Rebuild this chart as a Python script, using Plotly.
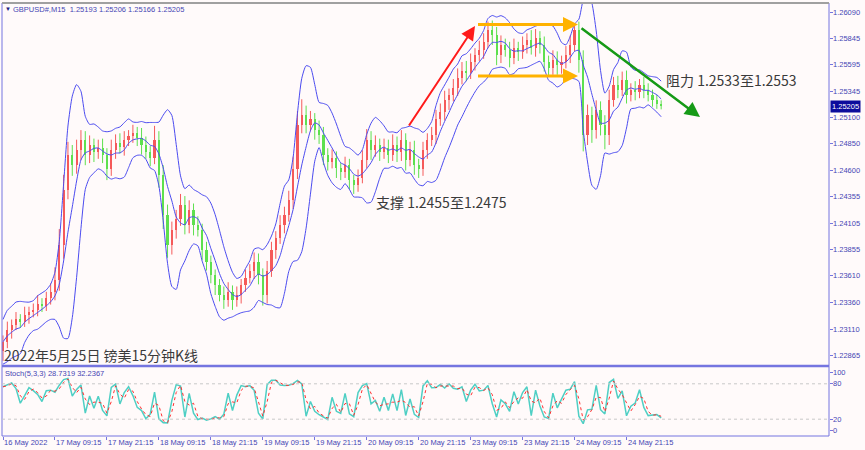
import numpy as np
import pandas as pd
import plotly.graph_objects as go

# ---------------- data (hourly approximation of GBPUSD M15 chart) ----------------
close = [
    1.2299, 1.2310, 1.2315, 1.2320, 1.2318, 1.2324, 1.2327, 1.2329, 1.2335, 1.2333,
    1.2340, 1.2346, 1.2357, 1.2390, 1.2442, 1.2475, 1.2465, 1.2479, 1.2489, 1.2475,
    1.2484, 1.2477, 1.2481, 1.2475, 1.2461, 1.2479, 1.2486, 1.2482, 1.2489, 1.2492,
    1.2495, 1.2491, 1.2484, 1.2477, 1.2472, 1.2489, 1.2456, 1.2418, 1.2390, 1.2404,
    1.2414, 1.2428, 1.2409, 1.2423, 1.2409, 1.2404, 1.2385, 1.2374, 1.2362, 1.2352,
    1.2343, 1.2338, 1.2346, 1.2338, 1.2343, 1.2352, 1.2359, 1.2366, 1.2374, 1.2362,
    1.2343, 1.2366, 1.2385, 1.2397, 1.2409, 1.2418, 1.2432, 1.2461, 1.2503, 1.2512,
    1.2503, 1.2508, 1.2498, 1.2493, 1.2475, 1.2468, 1.2472, 1.2462, 1.2459, 1.2465,
    1.2451, 1.2446, 1.2453, 1.2470, 1.2489, 1.2479, 1.2484, 1.2477, 1.2481, 1.2475,
    1.2484, 1.2477, 1.2489, 1.2470, 1.2479, 1.2465, 1.2461, 1.2479, 1.2489, 1.2493,
    1.2508, 1.2515, 1.2526, 1.2531, 1.2538, 1.2547, 1.2554, 1.2552, 1.2562, 1.2569,
    1.2573, 1.2581, 1.2592, 1.2587, 1.2569, 1.2578, 1.2573, 1.2566, 1.2575, 1.2571,
    1.2578, 1.2583, 1.2575, 1.2585, 1.2578, 1.2562, 1.2556, 1.2564, 1.2559, 1.2562,
    1.2569, 1.2578, 1.2592, 1.2564, 1.2493, 1.2512, 1.2498, 1.2517, 1.2503, 1.2493,
    1.2526, 1.2540, 1.2536, 1.2545, 1.2531, 1.2536, 1.2534, 1.2540, 1.2536, 1.2531,
    1.2526, 1.2523, 1.25205,
]
first_open = 1.2290

# upper / lower wick lengths in pips (0.0001)
wick_up = [
    6, 8, 5, 7, 5, 8, 5, 6, 8, 5,
    6, 8, 12, 15, 14, 12, 9, 10, 9, 8,
    9, 6, 8, 9, 6, 10, 8, 9, 8, 6,
    8, 6, 9, 8, 6, 13, 8, 9, 10, 8,
    9, 10, 8, 9, 6, 8, 6, 8, 6, 5,
    6, 8, 9, 6, 8, 6, 8, 6, 9, 8,
    6, 9, 8, 6, 9, 8, 9, 12, 13, 15,
    9, 8, 6, 9, 8, 6, 8, 6, 5, 8,
    6, 5, 8, 9, 10, 8, 9, 6, 9, 8,
    10, 8, 9, 6, 8, 9, 6, 8, 6, 8,
    9, 8, 9, 6, 8, 9, 8, 9, 8, 6,
    9, 8, 8, 9, 8, 9, 6, 8, 9, 6,
    8, 6, 9, 8, 6, 8, 6, 9, 8, 6,
    8, 9, 6, 8, 9, 10, 8, 9, 8, 9,
    10, 8, 9, 8, 9, 6, 8, 6, 8, 6,
    5, 5, 3,
]
wick_dn = [
    9, 6, 8, 5, 6, 5, 8, 5, 6, 6,
    5, 6, 8, 10, 13, 9, 10, 8, 9, 10,
    8, 9, 6, 8, 10, 6, 8, 6, 8, 6,
    6, 8, 9, 6, 8, 6, 12, 13, 12, 9,
    8, 6, 9, 8, 10, 6, 9, 8, 8, 9,
    6, 8, 6, 9, 6, 8, 6, 5, 8, 9,
    10, 8, 6, 8, 6, 8, 6, 8, 9, 8,
    8, 6, 9, 8, 10, 8, 6, 9, 8, 6,
    9, 8, 6, 5, 8, 9, 6, 8, 6, 8,
    6, 9, 8, 10, 6, 9, 8, 6, 8, 6,
    8, 6, 8, 9, 6, 8, 6, 8, 6, 8,
    6, 8, 6, 9, 10, 8, 6, 9, 6, 8,
    6, 8, 6, 8, 8, 9, 8, 6, 9, 8,
    6, 8, 6, 12, 15, 9, 12, 8, 10, 13,
    9, 6, 8, 6, 8, 6, 8, 6, 8, 6,
    6, 5, 3,
]

tick_bar_index = [0, 12, 24, 36, 48, 60, 72, 84, 96, 108, 120, 132, 144]
tick_labels = ["16 May 2022", "17 May 09:15", "17 May 21:15", "18 May 09:15",
               "18 May 21:15", "19 May 09:15", "19 May 21:15", "20 May 09:15",
               "20 May 21:15", "23 May 09:15", "23 May 21:15", "24 May 09:15",
               "24 May 21:15"]
price_ticks = [1.26090, 1.25845, 1.25595, 1.25345, 1.25100, 1.24850, 1.24600,
               1.24355, 1.24105, 1.23855, 1.23610, 1.23360, 1.23110, 1.22865]
stoch_ticks = [0, 20, 80, 100]
last_price = 1.25205

header_text = "GBPUSD#,M15  1.25193 1.25206 1.25166 1.25205"
stoch_text = "Stoch(5,3,3) 28.7319 32.2367"
title_text = "2022年5月25日 镑美15分钟K线"
support_text = "支撑 1.2455至1.2475"
resist_text = "阻力 1.2533至1.2553"

assert len(close) == len(wick_up) == len(wick_dn)

# ---------------- derived series ----------------
n = len(close)
idx = np.arange(n)
c = pd.Series(close)
o = pd.Series([first_open] + close[:-1])
hi = pd.concat([o, c], axis=1).max(axis=1) + pd.Series(wick_up) * 0.0001
lo = pd.concat([o, c], axis=1).min(axis=1) - pd.Series(wick_dn) * 0.0001

# Bollinger bands: 5 hourly bars (= 20 x M15); dispersion pooled over O/H/L/C
mid = c.rolling(5, min_periods=1).mean()
sd = []
for i in range(n):
    j0 = max(0, i - 4)
    vals = np.concatenate([o[j0:i + 1], hi[j0:i + 1], lo[j0:i + 1], c[j0:i + 1]])
    sd.append(np.sqrt(np.mean((vals - mid[i]) ** 2)))
sd = pd.Series(sd)
upper = mid + 2 * sd
lower = mid - 2 * sd

# Stochastic on hourly bars (periods scaled from M15)
ll = lo.rolling(2, min_periods=1).min()
hh = hi.rolling(2, min_periods=1).max()
k = 100 * (c - ll) / (hh - ll)
d = k.rolling(2, min_periods=1).mean()

# ---------------- geometry helpers ----------------
W, H = 865, 450
PL, PR, PT, PB = 2, 829, 3, 436


def pxx(xp):
    return (xp - PL) / (PR - PL)


def pyy(yp):
    return (PB - yp) / (PB - PT)


def bar_at(xp):
    return (xp - 3) / 4.33


def price_at(yp):
    return 1.26203 - 0.0000940 * yp


RED = "#f55a5a"
GREEN = "#5ee04f"
BAND = "#4b4bf0"
AXC = "#4646b4"
FRAME = "#7575e0"
SMALL = dict(family="Liberation Sans, Arial, sans-serif", size=7.5, color=AXC)

fig = go.Figure()

up = c >= o
for mask, col in ((up, RED), (~up, GREEN)):
    ii = idx[mask.values]
    base = np.minimum(o[mask], c[mask]).values
    hgt = np.maximum(np.abs(c[mask] - o[mask]).values, 0.00004)
    fig.add_trace(go.Bar(x=ii, y=hgt, base=base, width=0.5, marker=dict(color=col, line=dict(width=0)),
                         xaxis="x", yaxis="y", showlegend=False, hoverinfo="skip"))
    wx, wy = [], []
    for j in ii:
        wx += [j, j, None]
        wy += [lo[j], hi[j], None]
    fig.add_trace(go.Scatter(x=wx, y=wy, mode="lines", line=dict(color=col, width=1),
                             xaxis="x", yaxis="y", showlegend=False, hoverinfo="skip"))

for s in (upper, mid, lower):
    fig.add_trace(go.Scatter(x=idx, y=s, mode="lines", line=dict(color=BAND, width=1, shape="spline", smoothing=0.6),
                             xaxis="x", yaxis="y", showlegend=False, hoverinfo="skip"))

fig.add_trace(go.Scatter(x=idx, y=k, mode="lines", line=dict(color="#4fcfc4", width=1.5),
                         xaxis="x2", yaxis="y2", showlegend=False))
fig.add_trace(go.Scatter(x=idx, y=d, mode="lines", line=dict(color="#ff3030", width=1, dash="dot"),
                         xaxis="x2", yaxis="y2", showlegend=False))

xr = [bar_at(PL), bar_at(PR)]
main_bottom = pyy(365)
stoch_top = pyy(367)

fig.update_layout(
    width=W, height=H,
    margin=dict(l=PL, r=W - PR, t=PT, b=H - PB, autoexpand=False),
    paper_bgcolor="#fffafa", plot_bgcolor="#fffafa",
    bargap=0, barmode="overlay",
    font=SMALL,
    xaxis=dict(domain=[0, 1], range=xr, showticklabels=False, showgrid=False, zeroline=False,
               ticks="", anchor="y", automargin=False),
    yaxis=dict(domain=[main_bottom, 1], range=[price_at(365), price_at(3)], side="right",
               tickvals=price_ticks, showticklabels=False, ticks="outside", ticklen=3, tickcolor=FRAME,
               showgrid=False, zeroline=False, anchor="x", automargin=False),
    xaxis2=dict(domain=[0, 1], range=xr, showgrid=False, zeroline=False, anchor="y2",
                tickvals=tick_bar_index, showticklabels=False, ticks="outside", ticklen=3,
                tickcolor=FRAME, automargin=False),
    yaxis2=dict(domain=[0, stoch_top], range=[-8.5, 108.5], side="right",
                tickvals=stoch_ticks, showticklabels=False, ticks="outside", ticklen=3, tickcolor=FRAME,
                showgrid=False, zeroline=False, anchor="x2", automargin=False),
)

shapes = []
shapes.append(dict(type="rect", xref="paper", yref="paper", x0=0, x1=1, y0=0, y1=1,
                   line=dict(color=FRAME, width=1)))
shapes.append(dict(type="line", xref="paper", yref="paper", x0=0, x1=1, y0=pyy(366), y1=pyy(366),
                   line=dict(color=FRAME, width=2.5)))
shapes.append(dict(type="line", xref="paper", yref="paper", x0=0, x1=1, y0=1, y1=1,
                   line=dict(color="#a0a0a0", width=2)))
for lvl in (20, 80):
    shapes.append(dict(type="line", xref="paper", yref="y2", x0=0, x1=1, y0=lvl, y1=lvl,
                       line=dict(color="#c8c8c8", width=1, dash="dot")))
for yp in (24.5, 76):
    shapes.append(dict(type="line", xref="x", yref="y", x0=bar_at(478), x1=bar_at(572),
                       y0=price_at(yp), y1=price_at(yp), line=dict(color="#ffb200", width=3)))
fig.update_layout(shapes=shapes)

ann = []
ann.append(dict(x=bar_at(475), y=price_at(26), ax=bar_at(408), ay=price_at(127), xref="x", yref="y",
                axref="x", ayref="y", showarrow=True, arrowhead=2, arrowsize=1.4, arrowwidth=2,
                arrowcolor="#ff1a1a", text=""))
for yp in (24.5, 76):
    ann.append(dict(x=bar_at(578), y=price_at(yp), ax=bar_at(560), ay=price_at(yp), xref="x", yref="y",
                    axref="x", ayref="y", showarrow=True, arrowhead=2, arrowsize=1.0, arrowwidth=3,
                    arrowcolor="#ffb200", text=""))
ann.append(dict(x=bar_at(700), y=price_at(117), ax=bar_at(580), ay=price_at(27), xref="x", yref="y",
                axref="x", ayref="y", showarrow=True, arrowhead=2, arrowsize=1.2, arrowwidth=2.5,
                arrowcolor="#169a16", text=""))

big = dict(family="Noto Sans CJK SC, sans-serif", size=14, color="#3a3a3a")
ann.append(dict(x=pxx(2), y=pyy(355), xref="paper", yref="paper", xanchor="left", yanchor="middle",
                text=title_text, showarrow=False,
                font=dict(family="Noto Sans CJK SC, sans-serif", size=14, color="#3a3a3a")))
ann.append(dict(x=pxx(374), y=pyy(202), xref="paper", yref="paper", xanchor="left", yanchor="middle",
                text=support_text, showarrow=False, font=big))
ann.append(dict(x=pxx(664), y=pyy(80), xref="paper", yref="paper", xanchor="left", yanchor="middle",
                text=resist_text, showarrow=False, font=big))
ann.append(dict(x=pxx(3), y=pyy(9), xref="paper", yref="paper", xanchor="left", yanchor="middle",
                text="▼", showarrow=False, font=dict(size=6, color="#202080")))
ann.append(dict(x=pxx(11), y=pyy(9), xref="paper", yref="paper", xanchor="left", yanchor="middle",
                text=header_text, showarrow=False, font=SMALL))
ann.append(dict(x=pxx(3), y=pyy(373), xref="paper", yref="paper", xanchor="left", yanchor="middle",
                text=stoch_text, showarrow=False, font=SMALL))

for v in price_ticks:
    ann.append(dict(x=1, y=v, xref="paper", yref="y", xanchor="left", yanchor="middle", xshift=2,
                    text="%.5f" % v, showarrow=False, font=SMALL))
for v in stoch_ticks:
    ann.append(dict(x=1, y=v, xref="paper", yref="y2", xanchor="left", yanchor="middle", xshift=2,
                    text=str(v), showarrow=False, font=SMALL))
ann.append(dict(x=1, y=last_price, xref="paper", yref="y", xanchor="left", yanchor="middle",
                xshift=1, text="%.5f" % last_price, showarrow=False, bgcolor="#0c0c9c",
                borderpad=1, font=dict(family="Liberation Sans, Arial, sans-serif", size=7.5, color="#ffffff")))
for i, t in zip(tick_bar_index, tick_labels):
    ann.append(dict(x=i, y=pyy(442), xref="x2", yref="paper", xanchor="left", yanchor="middle",
                    xshift=-1, text=t, showarrow=False, font=SMALL))
fig.update_layout(annotations=ann)

fig.write_html("out.html", config={"displayModeBar": False},
               post_script="document.body.style.margin='0';document.body.style.padding='0';")
